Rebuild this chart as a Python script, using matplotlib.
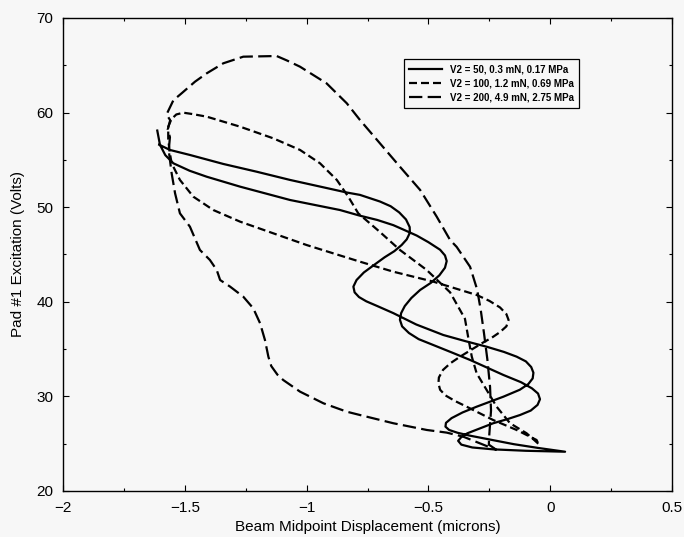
import matplotlib
matplotlib.use('Agg')
import matplotlib.pyplot as plt
from matplotlib.ticker import MultipleLocator, FuncFormatter

# V2 = 50 (solid): hook at the left, lower branch out to the tip, upper branch back
v50_x = [-1.613, -1.602, -1.580, -1.547, -1.480, -1.410, -1.273, -1.068, -0.863, -0.781,
         -0.710, -0.644, -0.600, -0.548, -0.500, -0.452, -0.432, -0.425, -0.432, -0.455,
         -0.490, -0.534, -0.570, -0.597, -0.612, -0.617, -0.608, -0.580, -0.540, -0.480,
         -0.400, -0.329, -0.260, -0.192, -0.120, -0.075, -0.050, -0.042, -0.052, -0.080,
         -0.124, -0.175, -0.234, -0.290, -0.340, -0.365, -0.378, -0.365, -0.320, -0.234,
         -0.100, 0.061,
         -0.050, -0.150, -0.250, -0.330, -0.380, -0.415, -0.430, -0.428, -0.405, -0.360,
         -0.302, -0.192, -0.125, -0.090, -0.072, -0.069, -0.078, -0.100, -0.138, -0.190,
         -0.261, -0.350, -0.439, -0.550, -0.644, -0.710, -0.755, -0.785, -0.803, -0.808,
         -0.795, -0.765, -0.720, -0.680, -0.640, -0.610, -0.589, -0.576, -0.577, -0.592,
         -0.620, -0.655, -0.699, -0.740, -0.781, -0.835, -0.931, -1.068, -1.205, -1.342,
         -1.479, -1.561, -1.605]
v50_y = [58.10, 56.60, 55.50, 54.64, 53.85, 53.22, 52.17, 50.76, 49.70, 49.10,
         48.65, 48.10, 47.60, 47.00, 46.30, 45.50, 44.90, 44.30, 43.60, 42.80,
         42.00, 41.25, 40.40, 39.55, 38.80, 38.10, 37.40, 36.70, 36.05, 35.43,
         34.60, 33.85, 33.05, 32.26, 31.50, 30.85, 30.30, 29.70, 29.10, 28.50,
         28.03, 27.60, 27.16, 26.60, 26.10, 25.70, 25.30, 24.90, 24.60, 24.40,
         24.25, 24.15,
         24.55, 24.95, 25.45, 25.85, 26.15, 26.45, 26.80, 27.20, 27.70, 28.30,
         28.91, 29.97, 30.70, 31.30, 31.90, 32.50, 33.10, 33.70, 34.20, 34.70,
         35.25, 35.85, 36.49, 37.60, 38.80, 39.55, 40.05, 40.50, 41.00, 41.60,
         42.30, 43.10, 43.95, 44.70, 45.35, 46.00, 46.60, 47.30, 47.90, 48.70,
         49.45, 50.10, 50.60, 50.95, 51.30, 51.55, 52.10, 52.88, 53.75, 54.57,
         55.52, 56.05, 56.60]

# V2 = 100 (short dash)
v100_x = [-0.049, -0.097, -0.165, -0.220, -0.261, -0.302, -0.322, -0.335, -0.350, -0.411,
          -0.507, -0.617, -0.700, -0.788, -0.829, -0.876, -0.945, -1.027, -1.137, -1.273,
          -1.410, -1.470, -1.506, -1.535, -1.555, -1.568, -1.568, -1.562, -1.554, -1.520,
          -1.465, -1.383, -1.273, -1.137, -1.000, -0.781, -0.644, -0.480, -0.302, -0.250,
          -0.206, -0.180, -0.171, -0.180, -0.206, -0.240, -0.275, -0.370, -0.410, -0.440,
          -0.457, -0.459, -0.452, -0.430, -0.390, -0.343, -0.234, -0.138, -0.056, -0.049]
v100_y = [25.00, 26.10, 27.16, 28.91, 30.68, 32.44, 34.20, 36.00, 38.20, 41.00,
          43.36, 45.48, 47.40, 49.35, 51.11, 52.88, 54.64, 56.05, 57.28, 58.51,
          59.57, 59.85, 59.99, 59.80, 59.30, 58.51, 57.20, 55.80, 54.64, 52.88,
          51.11, 49.70, 48.47, 47.24, 46.00, 44.24, 43.18, 42.13, 40.72, 40.10,
          39.40, 38.70, 38.08, 37.40, 36.80, 36.20, 35.70, 34.20, 33.50, 32.80,
          32.00, 31.38, 30.70, 30.10, 29.50, 28.91, 27.50, 26.45, 25.39, 25.00]

# V2 = 200 (long dash)
v200_x = [-0.220, -0.252, -0.250, -0.243, -0.247, -0.258, -0.272, -0.285, -0.300, -0.329,
          -0.384, -0.411, -0.466, -0.534, -0.617, -0.699, -0.781, -0.835, -0.918, -1.027,
          -1.080, -1.123, -1.260, -1.342, -1.410, -1.458, -1.513, -1.547, -1.575, -1.560,
          -1.570, -1.561, -1.566, -1.554, -1.540, -1.520, -1.479, -1.438, -1.397, -1.369,
          -1.355, -1.314, -1.260, -1.219, -1.191, -1.171, -1.157, -1.145, -1.120, -1.096,
          -1.027, -0.931, -0.835, -0.781, -0.644, -0.507, -0.425, -0.357, -0.220]
v200_y = [24.33, 24.90, 26.00, 28.50, 31.00, 33.90, 36.70, 39.10, 41.30, 43.70,
          45.80, 46.53, 49.00, 51.82, 54.28, 56.75, 59.22, 60.98, 63.09, 64.85,
          65.50, 65.98, 65.91, 65.21, 64.15, 63.27, 62.04, 61.30, 59.80, 59.20,
          58.20, 57.40, 56.00, 53.58, 51.47, 49.35, 47.94, 45.48, 44.42, 43.36,
          42.30, 41.60, 40.54, 39.31, 37.73, 35.96, 34.20, 33.20, 32.30, 31.73,
          30.50, 29.27, 28.38, 28.03, 27.16, 26.45, 26.17, 25.74, 24.33]

labels = ['V2 = 50, 0.3 mN, 0.17 MPa',
          'V2 = 100, 1.2 mN, 0.69 MPa',
          'V2 = 200, 4.9 mN, 2.75 MPa']

plt.rcParams['font.family'] = ['Liberation Sans', 'DejaVu Sans']

bg = '#f7f7f7'
fig = plt.figure(figsize=(6.84, 5.37), dpi=100, facecolor=bg)
ax = fig.add_axes([0.0921, 0.0857, 0.8904, 0.8808], facecolor=bg)

ax.plot(v50_x, v50_y, color='black', lw=1.6, label=labels[0])
ax.plot(v100_x, v100_y, color='black', lw=1.6, linestyle=(0, (3.6, 1.8)), label=labels[1])
ax.plot(v200_x, v200_y, color='black', lw=1.6, linestyle=(0, (6.0, 2.4)), label=labels[2])

ax.set_xlim(-2, 0.5)
ax.set_ylim(20, 70)
ax.xaxis.set_major_locator(MultipleLocator(0.5))
ax.xaxis.set_minor_locator(MultipleLocator(0.25))
ax.yaxis.set_major_locator(MultipleLocator(10))
ax.yaxis.set_minor_locator(MultipleLocator(5))
fmt = FuncFormatter(lambda v, p: ('%g' % v).replace('-', '\u2212'))
ax.xaxis.set_major_formatter(fmt)
ax.yaxis.set_major_formatter(fmt)
ax.tick_params(which='both', direction='in', top=True, right=True, width=0.8)
ax.tick_params(which='major', length=4, labelsize=11, pad=7)
ax.tick_params(which='minor', length=2.5)
for sp in ax.spines.values():
    sp.set_linewidth(1.0)

ax.set_xlabel('Beam Midpoint Displacement (microns)', fontsize=11, labelpad=4)
ax.set_ylabel('Pad #1 Excitation (Volts)', fontsize=11, labelpad=8)

leg = ax.legend(loc='upper right', bbox_to_anchor=(0.856, 0.924), fancybox=False,
                framealpha=1, facecolor=bg, edgecolor='black', handlelength=3.4,
                prop={'size': 7, 'weight': 'bold'}, borderpad=0.55, labelspacing=0.45)
leg.get_frame().set_linewidth(0.9)

plt.savefig('out.png', dpi=100, facecolor=bg)
